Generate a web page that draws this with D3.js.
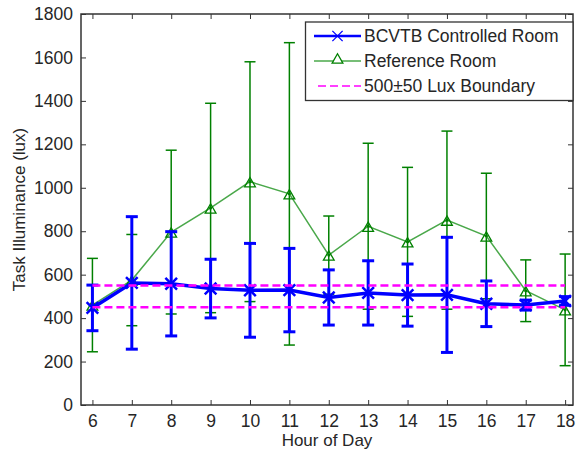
<!DOCTYPE html>
<html lang="en">
  <head>
    <meta charset="utf-8">
    <title>Task Illuminance</title>
    <style>
      body { margin: 0; background: #ffffff; }
      text { font-family: "Liberation Sans", Arial, Helvetica, sans-serif; fill: #262626; }
    </style>
    <script src="https://cdn.jsdelivr.net/npm/d3@7"></script>
  </head>
  <body>
    <div id="container"></div>
    <script type="text/javascript">
      // ---------------- DATA ----------------
      var hours = [6, 7, 8, 9, 10, 11, 12, 13, 14, 15, 16, 17, 18];
      // BCVTB controlled room: mean and std
      var bcvtbMean = [447, 562, 558, 536, 528, 529, 495, 516, 506, 507, 466, 460, 479];
      var bcvtbStd  = [105, 305, 240, 135, 216, 192, 127, 148, 143, 265, 105, 23, 20];
      // reference room: mean and std
      var refMean = [460, 575, 796, 907, 1028, 972, 690, 823, 751, 851, 778, 526, 438];
      var refStd  = [215, 210, 377, 482, 552, 696, 180, 382, 343, 410, 289, 142, 257];
      var boundary = [450, 550];
      var yTicks = [0, 200, 400, 600, 800, 1000, 1200, 1400, 1600, 1800];
      var legendLabels = ["BCVTB Controlled Room", "Reference Room", "500\u00b150 Lux Boundary"];

      // ---------------- LAYOUT ----------------
      var width = 576, height = 454;
      var plot = {left: 81, right: 573, top: 14, bottom: 405};

      var x = d3.scaleLinear().domain([5.71, 18.2]).range([plot.left, plot.right]);
      var y = d3.scaleLinear().domain([0, 1800]).range([plot.bottom, plot.top]);

      var svg = d3.select("#container").append("svg")
                  .attr("width", width)
                  .attr("height", height);

      var boxColor = "#333333";
      var blue = "#0000ff", green = "#008000", lightGreen = "#4aa84a", magenta = "#ff00ff";

      // axes (ticks inward, box style)
      svg.append("g")
         .attr("transform", "translate(0," + plot.bottom + ")")
         .call(d3.axisBottom(x).tickValues(hours).tickSize(-5).tickPadding(10).tickFormat(d3.format("d")))
         .call(function(g) {
           g.select(".domain").remove();
           g.selectAll("line").attr("stroke", boxColor);
           g.selectAll("text").attr("font-size", "17.5px").attr("fill", "#262626");
         });
      svg.append("g")
         .attr("transform", "translate(0," + plot.top + ")")
         .call(d3.axisTop(x).tickValues(hours).tickSize(-5).tickFormat(""))
         .call(function(g) {
           g.select(".domain").remove();
           g.selectAll("line").attr("stroke", boxColor);
         });
      svg.append("g")
         .attr("transform", "translate(" + plot.left + ",0)")
         .call(d3.axisLeft(y).tickValues(yTicks).tickSize(-5).tickPadding(8).tickFormat(d3.format("d")))
         .call(function(g) {
           g.select(".domain").remove();
           g.selectAll("line").attr("stroke", boxColor);
           g.selectAll("text").attr("font-size", "17.5px").attr("fill", "#262626");
         });
      svg.append("g")
         .attr("transform", "translate(" + plot.right + ",0)")
         .call(d3.axisRight(y).tickValues(yTicks).tickSize(-5).tickFormat(""))
         .call(function(g) {
           g.select(".domain").remove();
           g.selectAll("line").attr("stroke", boxColor);
         });

      svg.append("rect")
         .attr("x", plot.left).attr("y", plot.top)
         .attr("width", plot.right - plot.left).attr("height", plot.bottom - plot.top)
         .attr("fill", "none").attr("stroke", boxColor).attr("stroke-width", 1.5);

      // axis titles
      svg.append("text")
         .attr("x", (plot.left + plot.right) / 2)
         .attr("y", 446)
         .attr("text-anchor", "middle")
         .attr("font-size", "17px")
         .text("Hour of Day");
      svg.append("text")
         .attr("transform", "translate(" + 25 + "," + ((plot.top + plot.bottom) / 2) + ") rotate(-90)")
         .attr("text-anchor", "middle")
         .attr("font-size", "17px")
         .text("Task Illuminance (lux)");

      var chart = svg.append("g");

      var refData = hours.map(function(h, i) { return {h: h, m: refMean[i], s: refStd[i]}; });
      var bcData = hours.map(function(h, i) { return {h: h, m: bcvtbMean[i], s: bcvtbStd[i]}; });

      function drawErrorBars(data, color, lw, capW) {
        var g = chart.append("g").attr("stroke", color).attr("stroke-width", lw);
        g.selectAll(".v").data(data).enter().append("line")
         .attr("x1", function(d) { return x(d.h); }).attr("x2", function(d) { return x(d.h); })
         .attr("y1", function(d) { return y(d.m - d.s); }).attr("y2", function(d) { return y(d.m + d.s); });
        g.selectAll(".t").data(data).enter().append("line")
         .attr("x1", function(d) { return x(d.h) - capW / 2; }).attr("x2", function(d) { return x(d.h) + capW / 2; })
         .attr("y1", function(d) { return y(d.m + d.s); }).attr("y2", function(d) { return y(d.m + d.s); });
        g.selectAll(".b").data(data).enter().append("line")
         .attr("x1", function(d) { return x(d.h) - capW / 2; }).attr("x2", function(d) { return x(d.h) + capW / 2; })
         .attr("y1", function(d) { return y(d.m - d.s); }).attr("y2", function(d) { return y(d.m - d.s); });
      }

      // ---------------- REFERENCE ROOM ----------------
      drawErrorBars(refData, green, 1.5, 11);

      var line = d3.line().x(function(d) { return x(d.h); }).y(function(d) { return y(d.m); });

      chart.append("path").datum(refData)
           .attr("d", line).attr("fill", "none")
           .attr("stroke", lightGreen).attr("stroke-width", 1.5);

      var tri = d3.symbol().type(d3.symbolTriangle).size(50);
      chart.selectAll(".tri").data(refData).enter().append("path")
           .attr("d", tri)
           .attr("transform", function(d) { return "translate(" + x(d.h) + "," + (y(d.m) + 2) + ")"; })
           .attr("fill", "none").attr("stroke", green).attr("stroke-width", 1.3);
      chart.selectAll(".dot").data(refData).enter().append("circle")
           .attr("cx", function(d) { return x(d.h); }).attr("cy", function(d) { return y(d.m); })
           .attr("r", 1.6).attr("fill", green);

      // ---------------- BCVTB ROOM ----------------
      drawErrorBars(bcData, blue, 3, 12);
      chart.append("path").datum(bcData)
           .attr("d", line).attr("fill", "none")
           .attr("stroke", blue).attr("stroke-width", 3.5);
      var cross = d3.symbol().type(d3.symbolX).size(90);
      chart.selectAll(".xm").data(bcData).enter().append("path")
           .attr("d", cross)
           .attr("transform", function(d) { return "translate(" + x(d.h) + "," + y(d.m) + ")"; })
           .attr("fill", "none").attr("stroke", blue).attr("stroke-width", 2.5);

      // ---------------- BOUNDARY ----------------
      chart.selectAll(".bound").data(boundary).enter().append("line")
           .attr("x1", x(hours[0])).attr("x2", x(hours[hours.length - 1]))
           .attr("y1", function(d) { return y(d); }).attr("y2", function(d) { return y(d); })
           .attr("stroke", magenta).attr("stroke-width", 2.5)
           .attr("stroke-dasharray", "8,4");

      // ---------------- LEGEND ----------------
      var leg = svg.append("g");
      leg.append("rect")
         .attr("x", 305.5).attr("y", 22)
         .attr("width", plot.right - 305.5).attr("height", 78.5)
         .attr("fill", "#ffffff").attr("stroke", boxColor).attr("stroke-width", 1.3);

      var rowY = [36, 61, 86];
      var lx1 = 314, lx2 = 361, lxm = (lx1 + lx2) / 2;

      leg.append("line").attr("x1", lx1).attr("x2", lx2).attr("y1", rowY[0]).attr("y2", rowY[0])
         .attr("stroke", blue).attr("stroke-width", 2.5);
      leg.append("path").attr("d", d3.symbol().type(d3.symbolX).size(70))
         .attr("transform", "translate(" + lxm + "," + rowY[0] + ")")
         .attr("fill", "none").attr("stroke", blue).attr("stroke-width", 1.3);

      leg.append("line").attr("x1", lx1).attr("x2", lx2).attr("y1", rowY[1]).attr("y2", rowY[1])
         .attr("stroke", lightGreen).attr("stroke-width", 1.5);
      leg.append("path").attr("d", tri)
         .attr("transform", "translate(" + lxm + "," + (rowY[1] - 1) + ")")
         .attr("fill", "#ffffff").attr("stroke", green).attr("stroke-width", 1.3);

      leg.append("line").attr("x1", 318).attr("x2", lx2).attr("y1", rowY[2]).attr("y2", rowY[2])
         .attr("stroke", magenta).attr("stroke-width", 1.5).attr("stroke-dasharray", "8,4");

      leg.selectAll(".lt").data(legendLabels).enter().append("text")
         .attr("x", 364)
         .attr("y", function(d, i) { return rowY[i] + 6; })
         .attr("font-size", "17.5px")
         .text(function(d) { return d; });
    </script>
  </body>
</html>
